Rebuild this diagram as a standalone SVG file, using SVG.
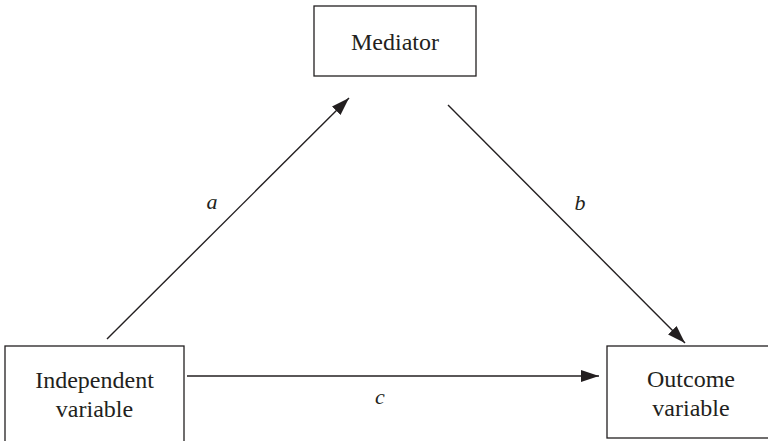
<svg xmlns="http://www.w3.org/2000/svg" width="768" height="441" viewBox="0 0 768 441">
<style>
.box{fill:#fff;stroke:#231f20;stroke-width:1.3}
.t{font-family:"Liberation Serif","Times New Roman",serif;font-size:24px;fill:#231f20;text-anchor:middle}
.l{font-family:"Liberation Serif","Times New Roman",serif;font-size:22px;font-style:italic;fill:#231f20;text-anchor:middle}
.c{stroke:#231f20;stroke-width:1.4;fill:none;marker-end:url(#ah)}
</style>
<defs>
<marker id="ah" viewBox="0 0 18 12" refX="18" refY="6" markerWidth="18" markerHeight="12" markerUnits="userSpaceOnUse" orient="auto">
<path d="M0,0 L18,6 L0,12 Z" fill="#231f20"/>
</marker>
</defs>
<rect width="768" height="441" fill="#fff"/>
<g id="mediator">
<rect class="box" x="314" y="6" width="162" height="70"/>
<text class="t" x="395" y="50">Mediator</text>
</g>
<g id="independent">
<rect class="box" x="5" y="346" width="179" height="100"/>
<text class="t" x="94.5" y="388">Independent</text>
<text class="t" x="94.5" y="417">variable</text>
</g>
<g id="outcome">
<rect class="box" x="607" y="346" width="170" height="92"/>
<text class="t" x="691" y="387">Outcome</text>
<text class="t" x="691" y="416">variable</text>
</g>
<g id="connectors">
<line class="c" x1="107" y1="339" x2="349" y2="98"/>
<line class="c" x1="448" y1="105" x2="685" y2="343"/>
<line class="c" x1="187" y1="376" x2="599" y2="376"/>
<text class="l" x="212" y="209">a</text>
<text class="l" x="580" y="210">b</text>
<text class="l" x="380" y="404">c</text>
</g>
</svg>
